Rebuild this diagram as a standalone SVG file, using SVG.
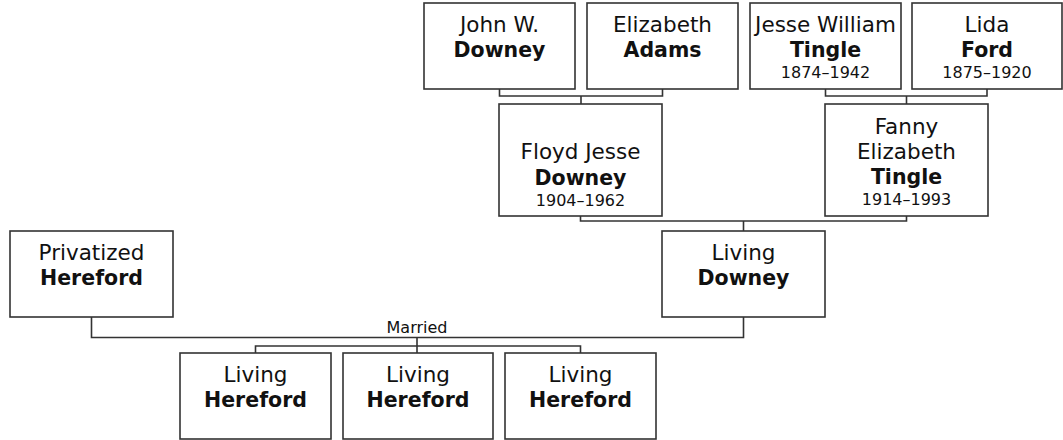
<svg xmlns="http://www.w3.org/2000/svg" width="1063" height="440" viewBox="0 0 1063 440">
<style>
.box{fill:#fff;stroke:#333;stroke-width:1.6}
.ln{fill:none;stroke:#333;stroke-width:1.6}
text{font-family:"DejaVu Sans",Verdana,sans-serif;fill:#111;text-anchor:middle}
.n{font-size:21.5px}
.s{font-size:20.5px;font-weight:bold}
.d{font-size:16px}
</style>
<rect width="1063" height="440" fill="#fff"/>
<g id="connectors">
<path class="ln" d="M499.5 89V96H662.5V89M581 96V104"/>
<path class="ln" d="M825.5 89V96H987V89M906.5 96V104"/>
<path class="ln" d="M580.5 216V221H906.5V216M743.5 221V231"/>
<path class="ln" d="M91.5 317V337.5H743.5V317M417 337.5V353"/>
<path class="ln" d="M255.5 353V346H580.5V353"/>
<text class="d" x="417" y="333">Married</text>
</g>
<g id="john">
<rect class="box" x="424" y="3" width="151" height="86"/>
<text class="n" x="499.5" y="31.7">John W.</text>
<text class="s" x="499.5" y="56.7">Downey</text>
</g>
<g id="elizabeth">
<rect class="box" x="587" y="3" width="151" height="86"/>
<text class="n" x="662.5" y="31.7">Elizabeth</text>
<text class="s" x="662.5" y="56.7">Adams</text>
</g>
<g id="jesse">
<rect class="box" x="750" y="3" width="151" height="86"/>
<text class="n" x="825.5" y="31.7">Jesse William</text>
<text class="s" x="825.5" y="56.7">Tingle</text>
<text class="d" x="825.5" y="78">1874–1942</text>
</g>
<g id="lida">
<rect class="box" x="912" y="3" width="150" height="86"/>
<text class="n" x="987" y="31.7">Lida</text>
<text class="s" x="987" y="56.7">Ford</text>
<text class="d" x="987" y="78">1875–1920</text>
</g>
<g id="floyd">
<rect class="box" x="499" y="104" width="163" height="112"/>
<text class="n" x="580.5" y="159">Floyd Jesse</text>
<text class="s" x="580.5" y="184.5">Downey</text>
<text class="d" x="580.5" y="205.5">1904–1962</text>
</g>
<g id="fanny">
<rect class="box" x="825" y="104" width="163" height="112"/>
<text class="n" x="906.5" y="133.5">Fanny</text>
<text class="n" x="906.5" y="158.5">Elizabeth</text>
<text class="s" x="906.5" y="184">Tingle</text>
<text class="d" x="906.5" y="205">1914–1993</text>
</g>
<g id="privatized">
<rect class="box" x="10" y="231" width="163" height="86"/>
<text class="n" x="91.5" y="260">Privatized</text>
<text class="s" x="91.5" y="285">Hereford</text>
</g>
<g id="living-downey">
<rect class="box" x="662" y="231" width="163" height="86"/>
<text class="n" x="743.5" y="260">Living</text>
<text class="s" x="743.5" y="285">Downey</text>
</g>
<g id="child1">
<rect class="box" x="180" y="353" width="151" height="86"/>
<text class="n" x="255.5" y="382">Living</text>
<text class="s" x="255.5" y="407">Hereford</text>
</g>
<g id="child2">
<rect class="box" x="343" y="353" width="150" height="86"/>
<text class="n" x="418" y="382">Living</text>
<text class="s" x="418" y="407">Hereford</text>
</g>
<g id="child3">
<rect class="box" x="505" y="353" width="151" height="86"/>
<text class="n" x="580.5" y="382">Living</text>
<text class="s" x="580.5" y="407">Hereford</text>
</g>
</svg>
